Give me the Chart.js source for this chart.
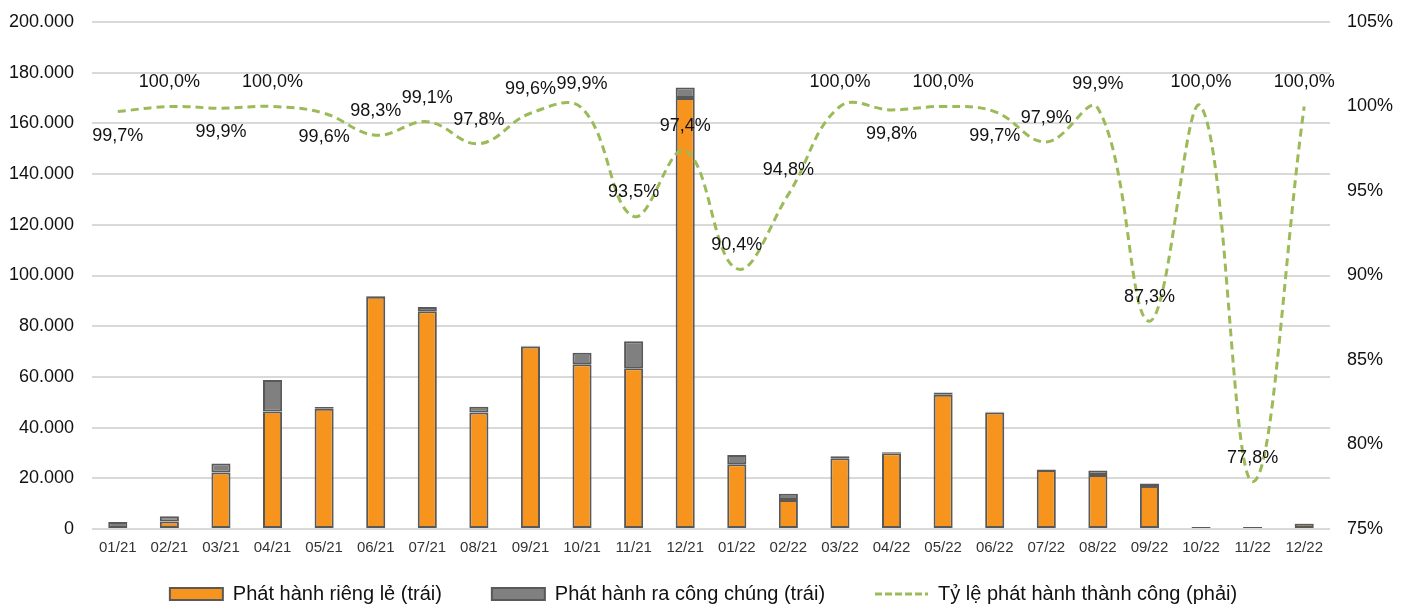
<!DOCTYPE html>
<html>
<head>
<meta charset="utf-8">
<script src="https://cdn.jsdelivr.net/npm/chart.js@4.4.1/dist/chart.umd.min.js"></script>
<style>
  html, body { margin: 0; padding: 0; background: #ffffff; }
  #wrap { width: 1407px; height: 605px; }
</style>
</head>
<body>
<div id="wrap"><canvas id="c" width="1407" height="605"></canvas></div>
<script>
// Tháng phát hành
const months = ['01/21','02/21','03/21','04/21','05/21','06/21','07/21','08/21','09/21','10/21','11/21','12/21',
                '01/22','02/22','03/22','04/22','05/22','06/22','07/22','08/22','09/22','10/22','11/22','12/22'];
// Phát hành riêng lẻ (tỷ đồng)
const privateIssue = [400, 3000, 22300, 46400, 47400, 91600, 85900, 46000, 72000, 65000, 63400, 170000,
                      25500, 11400, 27900, 29900, 53000, 46000, 23300, 21300, 17000, 800, 800, 2100];
// Phát hành ra công chúng (tỷ đồng)
const publicIssue = [2400, 2000, 3500, 12400, 700, 300, 1700, 2200, 300, 4500, 10700, 4200,
                     3700, 2500, 800, 400, 800, 300, 200, 1800, 900, 0, 0, 100];
// Tỷ lệ phát hành thành công (%)
const successRate = [99.7, 100.0, 99.9, 100.0, 99.6, 98.3, 99.1, 97.8, 99.6, 99.9, 93.5, 97.4,
                     90.4, 94.8, 100.0, 99.8, 100.0, 99.7, 97.9, 99.9, 87.3, 100.0, 77.8, 100.0];
// Trục trái / trục phải
const leftTicks = [0, 20000, 40000, 60000, 80000, 100000, 120000, 140000, 160000, 180000, 200000];
const rightTicks = [75, 80, 85, 90, 95, 100, 105];

// Nhãn tỷ lệ: phía trên (-1) hoặc phía dưới (+1) đường
const labelSide = [1, -1, 1, -1, 1, -1, -1, -1, -1, -1, -1, -1,
                   -1, -1, -1, 1, -1, 1, -1, -1, -1, -1, -1, -1];

const ORANGE = '#F7941D';
const GREY = '#808080';
const EDGE = '#595959';
const GREEN = '#9BBB59';
const FONT = "'Liberation Sans', Arial, sans-serif";
const LEGEND_GAP = 50;

const fmtThousands = v => Math.round(v).toString().replace(/\B(?=(\d{3})+(?!\d))/g, '.');
const fmtPct1 = v => v.toFixed(1).replace('.', ',') + '%';

// Nhãn giá trị trên đường tỷ lệ
const rateLabels = {
  id: 'rateLabels',
  afterDatasetsDraw(chart) {
    const meta = chart.getDatasetMeta(2);
    if (!meta || meta.hidden) return;
    const ctx = chart.ctx;
    ctx.save();
    ctx.font = '18px ' + FONT;
    ctx.fillStyle = '#111111';
    ctx.textAlign = 'center';
    ctx.textBaseline = 'middle';
    meta.data.forEach((pt, i) => {
      const off = labelSide[i] < 0 ? -24 : 24;
      ctx.fillText(fmtPct1(successRate[i]), pt.x, pt.y + off);
    });
    ctx.restore();
  }
};

// Chú thích: giữ khoảng cách ngang rộng nhưng chiều cao gọn
const compactLegend = {
  id: 'compactLegend',
  beforeInit(chart) {
    const lg = chart.legend;
    if (!lg) return;
    const fit = lg.fit;
    lg.fit = function () {
      fit.call(this);
      this.height = 46;
    };
    const draw = lg.draw;
    lg.draw = function () {
      const top = this.top;
      this.top = top + 25 - LEGEND_GAP;
      draw.call(this);
      this.top = top;
    };
  }
};

// Trục dọc không cần lề thêm trên/dưới
const noVPad = s => { s.paddingTop = 0; s.paddingBottom = 0; };

const baseLabels = Chart.defaults.plugins.legend.labels.generateLabels;

new Chart(document.getElementById('c'), {
  data: {
    labels: months,
    datasets: [
      {
        type: 'bar',
        label: 'Phát hành riêng lẻ (trái)',
        data: privateIssue,
        backgroundColor: ORANGE,
        borderColor: EDGE,
        borderWidth: 2,
        borderSkipped: false,
        yAxisID: 'y',
        stack: 's',
        order: 1,
        pointStyle: 'rect',
        barPercentage: 0.37,
        categoryPercentage: 1
      },
      {
        type: 'bar',
        label: 'Phát hành ra công chúng (trái)',
        data: publicIssue,
        backgroundColor: GREY,
        borderColor: EDGE,
        borderWidth: 2,
        borderSkipped: false,
        yAxisID: 'y',
        stack: 's',
        order: 1,
        pointStyle: 'rect',
        barPercentage: 0.37,
        categoryPercentage: 1
      },
      {
        type: 'line',
        label: 'Tỷ lệ phát hành thành công (phải)',
        data: successRate,
        borderColor: GREEN,
        backgroundColor: GREEN,
        borderWidth: 3,
        borderDash: [8, 5],
        tension: 0.4,
        pointRadius: 0,
        pointHoverRadius: 0,
        pointStyle: 'line',
        fill: false,
        yAxisID: 'y1',
        order: 0
      }
    ]
  },
  options: {
    responsive: false,
    animation: false,
    layout: { padding: { top: 22, right: 0, bottom: 0, left: 0 } },
    plugins: {
      tooltip: { enabled: false },
      legend: {
        position: 'bottom',
        labels: {
          usePointStyle: true,
          pointStyleWidth: 53,
          boxHeight: 12,
          padding: LEGEND_GAP,
          color: '#111111',
          font: { family: FONT, size: 20 },
          sort: (a, b) => a.datasetIndex - b.datasetIndex,
          generateLabels: chart => baseLabels(chart).map(item => {
            if (item.datasetIndex === 2) {
              item.lineDash = [7, 3];
              item.lineWidth = 3;
              item.strokeStyle = GREEN;
            } else {
              item.lineWidth = 2;
              item.strokeStyle = EDGE;
            }
            return item;
          })
        }
      }
    },
    scales: {
      x: {
        stacked: true,
        afterFit: s => { s.height = 30; },
        grid: { display: false, drawTicks: false },
        border: { display: false },
        ticks: {
          color: '#333333',
          font: { family: FONT, size: 15 },
          padding: 10,
          maxRotation: 0,
          autoSkip: false
        }
      },
      y: {
        stacked: true,
        position: 'left',
        min: leftTicks[0],
        max: leftTicks[leftTicks.length - 1],
        afterBuildTicks: s => { s.ticks = leftTicks.map(v => ({ value: v })); },
        afterFit: s => { s.width = 92; noVPad(s); },
        grid: { color: '#D9D9D9', lineWidth: 2, drawTicks: false },
        border: { display: false },
        ticks: {
          color: '#111111',
          font: { family: FONT, size: 18 },
          padding: 18,
          callback: v => fmtThousands(v)
        }
      },
      y1: {
        position: 'right',
        min: rightTicks[0],
        max: rightTicks[rightTicks.length - 1],
        afterBuildTicks: s => { s.ticks = rightTicks.map(v => ({ value: v })); },
        afterFit: s => { s.width = 77; noVPad(s); },
        grid: { display: false, drawTicks: false },
        border: { display: false },
        ticks: {
          color: '#111111',
          font: { family: FONT, size: 18 },
          padding: 17,
          callback: v => v + '%'
        }
      }
    }
  },
  plugins: [compactLegend, rateLabels]
});
</script>
</body>
</html>
